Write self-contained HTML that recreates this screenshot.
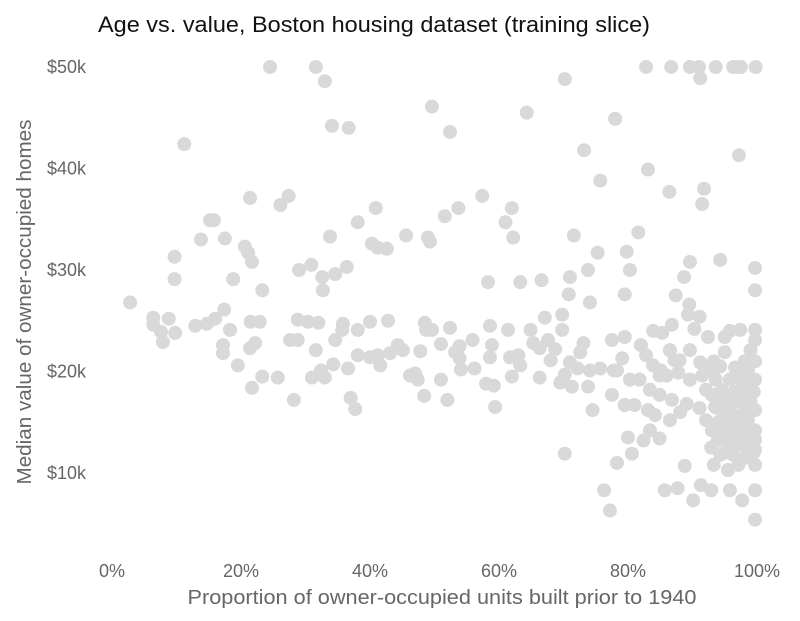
<!DOCTYPE html>
<html><head><meta charset="utf-8">
<style>
html,body{margin:0;padding:0;background:#fff;}
svg{display:block;font-family:"Liberation Sans",Arial,sans-serif;}
</style></head>
<body>
<svg id="chart" width="800" height="621" viewBox="0 0 800 621">
<text x="98" y="32" font-size="22" fill="#111" textLength="552" lengthAdjust="spacingAndGlyphs">Age vs. value, Boston housing dataset (training slice)</text>
<g id="yticks"></g>
<g id="xticks"></g>
<g id="points"></g>
<text x="442" y="604" font-size="20" fill="#666" text-anchor="middle" textLength="509" lengthAdjust="spacingAndGlyphs">Proportion of owner-occupied units built prior to 1940</text>
<text transform="translate(31,302) rotate(-90)" font-size="20" fill="#666" text-anchor="middle" textLength="365" lengthAdjust="spacingAndGlyphs">Median value of owner-occupied homes</text>
</svg>
<script>
const xTickValues=[0,20,40,60,80,100];
const xTickLabels=["0%","20%","40%","60%","80%","100%"];
const yTickValues=[10,20,30,40,50];
const yTickLabels=["$10k","$20k","$30k","$40k","$50k"];
const age=[24.5,31.6,82.8,86.7,89.6,91,93.6,96.3,96.9,97.5,99.8,33,91.2,70.2,49.6,64.3,52.4,34.1,36.7,78,11.2,97.2,73.2,83.1,75.7,86.4,91.8,91.5,27.4,21.4,26.1,57.4,53.7,51.6,40.9,38.1,15.2,15.8,17.5,13.8,33.8,62,61,62.2,71.6,81.6,89.6,94.3,99.7,20.6,21.1,21.7,9.7,9.7,18.8,23.3,29,30.9,32.6,32.7,34.6,36.4,40.3,41.2,42.6,45.6,49,49.3,58.3,63.3,66.6,71,70.8,69.8,75.3,80.3,79.8,88.7,87.4,79.5,74.1,89.5,99.7,99.7,99.7,73.8,
2.8,6.4,6.4,7.6,7.9,8.8,9.8,12.9,14.7,16,17.4,18.3,17.2,17.2,19.5,21.4,21.5,22.9,22.2,23.3,21.7,25.7,28.2,27.6,28.8,28.8,30.4,32,31.6,32.4,31,33,34.3,34.6,35.8,35.7,36.6,37,37.7,38.1,38.1,40,40,41.2,41.6,43.1,42.8,44.3,45.1,46.2,47,47.4,47.8,48.5,48.7,49.6,48.4,51,51,52.4,53.2,53.9,53.9,52,54.1,55.9,56.2,58.6,58.9,58.6,58,59.2,59.4,61.4,61.7,62,63,63.3,64.9,65.3,66.3,67.6,66.3,68.7,68,69.5,70.2,71.3,72.2,72.6,73.1,73.8,74.5,74.1,75.7,70.2,67.1,69.8,71,
77.5,79.5,77.8,80.3,82,82.8,83.9,85.1,86.5,88,89.6,91.2,92.9,93.6,94.5,94.8,95.3,96,96.8,97.6,98.3,99.1,99.7,99.7,99.7,99.7,99.7,99.7,99.7,97.7,95.8,95.5,92.9,91.3,85.7,87.7,88.8,90.1,77.2,76.3,78.3,79.5,80.6,80,82.4,83.4,84.9,86.5,88.1,89.1,91.1,92.1,93,93.9,94.3,96.3,97.4,98.3,97.1,79.5,84.9,86.8,89.6,81.8,83.4,84.9,86,87.8,89.6,91.5,92.1,93,93.9,94.5,95,95.8,96.7,97.4,98,98.6,95.8,94.3,96.6,95,95.8,97.4,95,92.4,90.3,91.1,89.3,86.8,85.3,83.9,82,86.5,78.3,79.1,77.5,81,83.1,84.2,81.8,87.2,93.3,98.1,99,99.7,98.6,99.2,99.7,98.3,97,96.3,94.5,95.5,95.5,98.1,99,93.3,92.9,
96,97,98,99,99.5,96.5,97.5,98.5,95,96,97,98,99,94,95,96.5,98,99.5,93.5,97,98];
const medv=[50,50,50,50,50,50,50,50,50,50,50,48.6,48.9,48.8,46.1,45.5,43.6,44.2,44,44.9,42.4,41.3,41.8,39.9,38.8,37.7,38,36.5,37.3,37.1,36.4,37.3,36.1,35.3,36.1,34.7,34.9,34.9,33.1,33,33.3,36.1,34.7,33.2,33.4,33.7,30.8,31,30.2,32.3,31.7,30.8,31.3,29.1,29.1,28,30,30.5,29.3,28,29.6,30.3,32.6,32.2,32.1,33.4,33.2,32.8,28.8,28.8,29,29.3,27.6,25.6,31.7,30,31.8,29.3,27.5,27.6,26.8,26.6,28,24.1,23.1,30,
26.8,25.3,24.6,23.9,22.9,25.2,23.8,24.5,24.7,25.2,26.1,24.1,22.6,21.8,20.6,22.3,24.9,24.9,22.8,19.5,18.4,19.4,17.2,23.1,23.1,25.1,24.9,24.8,22.1,20.1,19.4,19.4,20.7,23.1,24.7,24.1,20.3,17.4,16.3,21.6,24.1,21.4,24.9,21.6,20.6,21.8,25,22.6,22.1,19.6,19.8,19.2,22,24.8,24.1,24.1,17.6,22.7,19.2,24.3,21.9,22.5,21.3,17.2,20.2,23.1,20.3,24.5,22.6,21.4,18.8,18.6,16.5,24.1,21.4,19.5,21.6,20.6,24.1,22.8,22.3,23.1,19.4,22.2,21.1,18.9,19.7,18.5,20.3,21.9,22.8,18.5,16.2,20.1,20.3,11.9,25.3,24.1,20.9,
23.1,23.4,20.1,19.2,22.6,21.6,20.6,20.1,22.1,21.1,22.1,20.9,20.1,19.2,18.2,17.2,16.2,15.2,14.2,15.7,17.2,18.2,19.2,16.2,14.2,12.3,10.8,8.3,5.4,7.3,8.3,10.3,8.3,8.8,8.3,8.5,10.7,7.3,6.3,8.3,11,16.7,11.9,13.5,13.2,14.2,13.4,15.2,16,16.8,16.4,15.2,14.2,13.2,11.8,11.8,12.8,13.3,10.8,16.7,17.7,17.2,19.2,19.2,18.2,19.6,19.6,19.9,19.2,19.6,18.2,17.7,16.4,15.2,14.2,19.2,17.2,18.2,19.2,20.1,19.2,20.5,20.4,21.9,24,24.1,23.4,23.4,24.2,25.4,25.6,24.6,23.8,24,22.6,22.1,20.1,21.3,17.7,16.7,16.2,15.7,19.2,21.1,21,21,22.1,21,15.2,14,13.3,14.2,15.2,17.2,14.7,13.2,10.3,11.5,12.3,10.8,12.5,
16,15,14,13,12,18,17,16,12,13,14,15,17,15,16,13.5,19,18,16.5,19.5,20];
const X0=112,X1=757,Y0=473,YK=10.15;
function xs(v){return X0+(X1-X0)*v/100;}
function ys(v){return Y0-(v-10)*YK;}
const NS="http://www.w3.org/2000/svg";
const yt=document.getElementById('yticks');
yTickValues.forEach((v,i)=>{
 const t=document.createElementNS(NS,'text');
 
 
 t.setAttribute('x',86);t.setAttribute('y',ys(v)+6);
 t.setAttribute('text-anchor','end');t.setAttribute('font-size','18');t.setAttribute('fill','#666');
 t.textContent=yTickLabels[i];yt.appendChild(t);
});
const xt=document.getElementById('xticks');
xTickValues.forEach((v,i)=>{
 const t=document.createElementNS(NS,'text');
 
 
 t.setAttribute('x',xs(v));t.setAttribute('y',577);
 t.setAttribute('text-anchor','middle');t.setAttribute('font-size','18');t.setAttribute('fill','#666');
 t.textContent=xTickLabels[i];xt.appendChild(t);
});
const pg=document.getElementById('points');
const n=Math.min(age.length,medv.length);
for(let i=0;i<n;i++){
 const c=document.createElementNS(NS,'circle');
 
 
 c.setAttribute('cx',xs(age[i]));c.setAttribute('cy',ys(medv[i]));
 c.setAttribute('r',7);c.setAttribute('fill','#d9d9d9');
 pg.appendChild(c);
}
</script>
</body></html>
